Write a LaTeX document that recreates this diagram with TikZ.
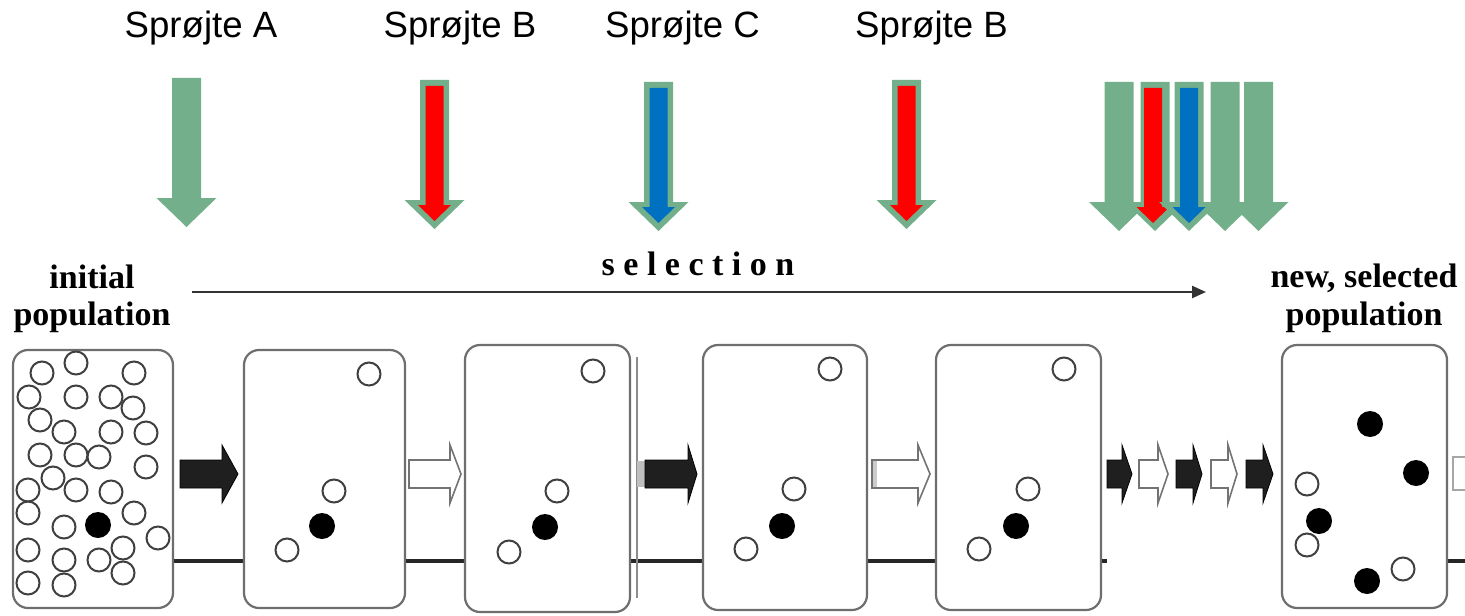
\documentclass[tikz,border=0pt]{standalone}
\usepackage{fontspec}
\setmainfont{Liberation Serif}
\newfontfamily\arialf{Liberation Sans}
\usetikzlibrary{arrows.meta}
\definecolor{sgreen}{RGB}{114,175,138}
\definecolor{sblue}{RGB}{0,112,192}
\definecolor{sred}{RGB}{255,0,0}
\definecolor{boxgray}{RGB}{110,110,110}
\tikzset{
  popbox/.style={draw=boxgray, line width=1.1pt, rounded corners=7.5pt, fill=white, inner sep=0pt},
  oc/.style={circle, draw=black!75, line width=1pt, minimum size=11.5pt, inner sep=0pt},
  fc/.style={circle, fill=black, minimum size=13pt, inner sep=0pt},
  spray/.style={anchor=base, font=\arialf\fontsize{18.3}{20}\selectfont},
  poplabel/.style={anchor=base, font=\fontsize{17}{20}\selectfont\bfseries},
  blackarr/.style={fill=black!88},
  whitearr/.style={fill=white, draw=black!55, line width=0.8pt},
  garrow/.pic={\fill[sgreen] (-14.5,0)--(14.5,0)--(14.5,120)--(30,120)--(0,149)--(-30,120)--(-14.5,120)--cycle;},
  iarrow/.pic={\fill (-9,6)--(9,6)--(9,125)--(16.5,125)--(0,141)--(-16.5,125)--(-9,125)--cycle;}
}
\newcommand\harr[4]{\draw[#4] (#1,460)--(#2,460)--(#2,445)--(#3,474)--(#2,503)--(#2,488)--(#1,488)--cycle;}
\begin{document}
\begin{tikzpicture}[x=0.5pt,y=-0.5pt]
\useasboundingbox (0,0) rectangle (1465,615);

% spray labels
\node[spray] (sa) at (201,38) {Sprøjte A};
\node[spray] (sb1) at (460,38) {Sprøjte B};
\node[spray] (sc) at (682.5,38) {Sprøjte C};
\node[spray] (sb2) at (931.5,38) {Sprøjte B};

% spray arrows
\pic at (186.5,78) {garrow};
\pic at (434.5,80) {garrow};
\pic[sred] at (434.5,80) {iarrow};
\pic at (658.5,82) {garrow};
\pic[sblue] at (658.5,82) {iarrow};
\pic at (906.5,80) {garrow};
\pic[sred] at (906.5,80) {iarrow};
% combined group
\pic at (1119,82) {garrow};
\pic at (1258.5,82) {garrow};
\pic at (1225,82) {garrow};
\pic at (1155,82) {garrow};
\pic[sred] at (1153,82) {iarrow};
\pic at (1189,82) {garrow};
\pic[sblue] at (1189,82) {iarrow};

% selection arrow
\node[anchor=base, font=\fontsize{17}{20}\selectfont\bfseries\addfontfeature{LetterSpace=25}] (sel) at (698,275) {selection};
\coordinate (s0) at (192,292);
\coordinate (s1) at (1206,292);
\draw[line width=1.2pt, black!80, -{Triangle[length=7pt,width=6pt]}] (s0) -- (s1);

% population labels
\node[poplabel] (ini1) at (92,288) {initial};
\node[poplabel] (ini2) at (92,325) {population};
\node[poplabel] (new1) at (1364,287) {new, selected};
\node[poplabel] (new2) at (1364,325) {population};

% baseline
\coordinate (L0) at (173,561);
\coordinate (L1) at (1107,561);
\coordinate (L2) at (1447,561);
\coordinate (L3) at (1465,561);
\draw[line width=1.6pt, black!85] (L0) -- (L1);
\draw[line width=1.6pt, black!85] (L2) -- (L3);

% artifact line near box 3
\draw[black!45, line width=0.6pt] (637,357) -- (637,598);

% boxes
\node[popbox, minimum width=80pt, minimum height=129pt] (b1) at (93,479) {};
\node[popbox, minimum width=80.5pt, minimum height=129pt] (b2) at (324.5,479) {};
\node[popbox, minimum width=82.5pt, minimum height=133.5pt] (b3) at (547.5,478.5) {};
\node[popbox, minimum width=82pt, minimum height=132.5pt] (b4) at (785,477.5) {};
\node[popbox, minimum width=82.5pt, minimum height=132.5pt] (b5) at (1018.5,477.5) {};
\node[popbox, minimum width=82.5pt, minimum height=131.5pt] (b6) at (1364.5,476.5) {};

% horizontal arrows
\harr{180}{222}{238}{blackarr}
\harr{409}{450}{461}{whitearr}
\fill[black!25] (637,461) rectangle (645,487);
\harr{645}{688}{697}{blackarr}
\harr{872}{918}{930}{whitearr}
\fill[black!20] (873,461) rectangle (877,487);
\harr{1107}{1122}{1132}{blackarr}
\harr{1139}{1158}{1168}{whitearr}
\harr{1176}{1193}{1202}{blackarr}
\harr{1211}{1228}{1237}{whitearr}
\harr{1246}{1263}{1273}{blackarr}
\draw[black!35, line width=0.6pt] (1465,457) -- (1453,457) -- (1453,490) -- (1465,490);

% circles box 1
\foreach [count=\i] \x/\y in {42/373,76/363,134/373,29/397,76/397,111/397,133/408,40/420,64/432,111/432,146/433,40/455,76/455,99/457,146/467,53/478,28/490,76/490,111/492,28/513,64/527,134/513,158/538,28/550,64/560,99/560,123/548,123/573,28/583,64/585}
  \node[oc] (p\i) at (\x,\y) {};
\node[fc] (f1) at (98,525) {};

% box 2
\node[oc] (q1) at (369,374) {};
\node[oc] (q2) at (334,491) {};
\node[fc] (q3) at (322,526) {};
\node[oc] (q4) at (287,550) {};
% box 3
\node[oc] (r1) at (593,371) {};
\node[oc] (r2) at (557,491) {};
\node[fc] (r3) at (545,527) {};
\node[oc] (r4) at (509,552) {};
% box 4
\node[oc] (t1) at (830,369) {};
\node[oc] (t2) at (794,489) {};
\node[fc] (t3) at (782,526) {};
\node[oc] (t4) at (746,549) {};
% box 5
\node[oc] (u1) at (1064,369) {};
\node[oc] (u2) at (1028,489) {};
\node[fc] (u3) at (1016,526) {};
\node[oc] (u4) at (979,549) {};
% box 6
\node[fc] (v1) at (1370,424) {};
\node[fc] (v2) at (1416,473) {};
\node[oc] (v3) at (1307,484) {};
\node[oc] (v5) at (1307,545) {};
\node[fc] (v4) at (1319,521) {};
\node[fc] (v6) at (1367,581) {};
\node[oc] (v7) at (1403,569) {};
\end{tikzpicture}
\end{document}
